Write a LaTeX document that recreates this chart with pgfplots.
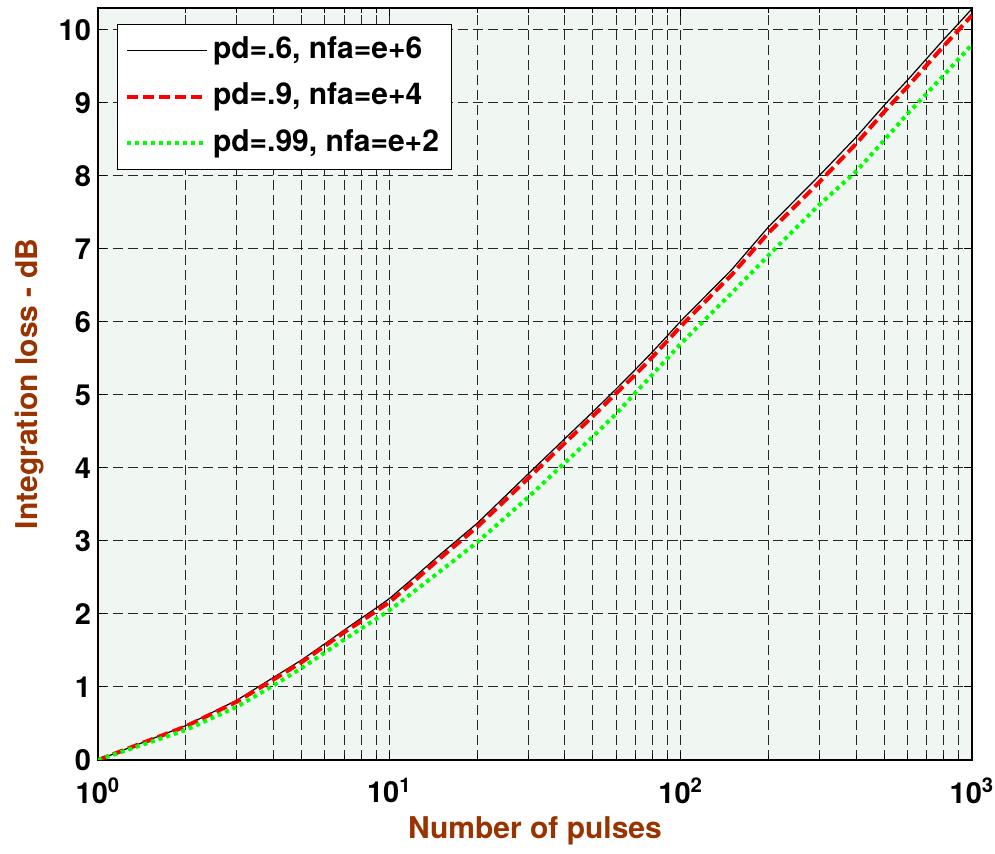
\documentclass[border=0pt]{standalone}
\usepackage{pgfplots}
\pgfplotsset{compat=1.18}
\usepackage{fontspec}
\setmainfont{TeX Gyre Heros}
\definecolor{bgc}{RGB}{240,246,242}
\definecolor{lblc}{RGB}{153,51,0}
\definecolor{pgreen}{RGB}{0,255,0}
\definecolor{pred}{RGB}{255,0,0}
\begin{document}
\begin{tikzpicture}
\begin{axis}[
  at={(0,0)}, anchor=south west,
  scale only axis, width=437pt, height=376pt,
  xmode=log, log basis x=10,
  xmin=1, xmax=1000, ymin=0, ymax=10.3,
  xtick={1,10,100,1000},
  minor xtick={2,3,4,5,6,7,8,9,20,30,40,50,60,70,80,90,200,300,400,500,600,700,800,900},
  xticklabels={10\textsuperscript{0},10\textsuperscript{1},10\textsuperscript{2},10\textsuperscript{3}},
  ytick={0,1,2,3,4,5,6,7,8,9,10},
  minor y tick num=0,
  /pgf/number format/assume math mode=true,
  axis background/.style={fill=bgc},
  xmajorgrids, xminorgrids, ymajorgrids,
  major grid style={dash pattern=on 5pt off 2.5pt, black!85, line width=0.5pt},
  minor grid style={dash pattern=on 5pt off 2.5pt, black!85, line width=0.5pt},
  tick align=inside, major tick length=4pt, minor tick length=2.5pt,
  tick style={black, line width=0.5pt},
  axis line style={line width=0.6pt},
  yticklabel style={font=\fontsize{14.5}{17}\selectfont\bfseries},
  xticklabel style={font=\fontsize{14.5}{17}\selectfont\bfseries, anchor=north, yshift=-5.5pt},
  xlabel={Number of pulses},
  ylabel={Integration loss - dB},
  label style={font=\fontsize{15}{18}\selectfont\bfseries, text=lblc},
  xlabel style={at={(axis description cs:0.5,-0.094)}, anchor=center},
  ylabel style={at={(axis description cs:-0.078,0.5)}, anchor=center},
  legend style={at={(axis description cs:0,1)}, anchor=north west, xshift=9.3pt, yshift=-8pt,
    draw=black, fill=white, font=\fontsize{15}{18}\selectfont\bfseries,
    inner xsep=4pt, inner ysep=4pt, row sep=5.2pt,
    nodes={inner sep=2pt, text height=11pt, text depth=3pt}},
  legend cell align=left,
  legend image code/.code={\draw[#1] (2pt,0pt) -- (42pt,0pt);},
]
\addplot[black, line width=0.6pt] coordinates {
(1,0) (2,0.47) (3,0.82) (4,1.13) (5,1.37) (6,1.59) (7,1.78) (8,1.94) (9,2.08) (10,2.21)
(12,2.48) (15,2.82) (20,3.24) (30,3.92) (40,4.40) (50,4.77) (60,5.08) (70,5.35) (80,5.59) (90,5.81)
(100,6.01) (150,6.72) (200,7.30) (300,8.01) (400,8.53) (500,8.97) (600,9.31) (700,9.61)
(800,9.87) (900,10.09) (1000,10.29)};
\addlegendentry{pd=.6, nfa=e+6}
\addplot[pred, line width=2pt, dash pattern=on 5.5pt off 2.5pt] coordinates {
(1,0) (2,0.46) (3,0.80) (4,1.10) (5,1.34) (6,1.56) (7,1.75) (8,1.90) (9,2.04) (10,2.16)
(12,2.43) (15,2.77) (20,3.19) (30,3.86) (40,4.34) (50,4.71) (60,5.02) (70,5.28) (80,5.52) (90,5.74)
(100,5.94) (150,6.65) (200,7.22) (300,7.92) (400,8.44) (500,8.88) (600,9.22) (700,9.52)
(800,9.78) (900,10.00) (1000,10.20)};
\addlegendentry{pd=.9, nfa=e+4}
\addplot[pgreen, line width=2pt, dash pattern=on 2pt off 2pt] coordinates {
(1,0) (2,0.41) (3,0.73) (4,1.02) (5,1.26) (6,1.47) (7,1.65) (8,1.80) (9,1.93) (10,2.05)
(12,2.29) (15,2.59) (20,2.98) (30,3.60) (40,4.07) (50,4.43) (60,4.74) (70,5.03) (80,5.28) (90,5.50)
(100,5.70) (150,6.40) (200,6.91) (300,7.61) (400,8.06) (500,8.49) (600,8.85) (700,9.13)
(800,9.38) (900,9.60) (1000,9.80)};
\addlegendentry{pd=.99, nfa=e+2}
\end{axis}
\pgfresetboundingbox
\path (-49pt,-47pt) rectangle (448.5pt,380pt);
\end{tikzpicture}
\end{document}
